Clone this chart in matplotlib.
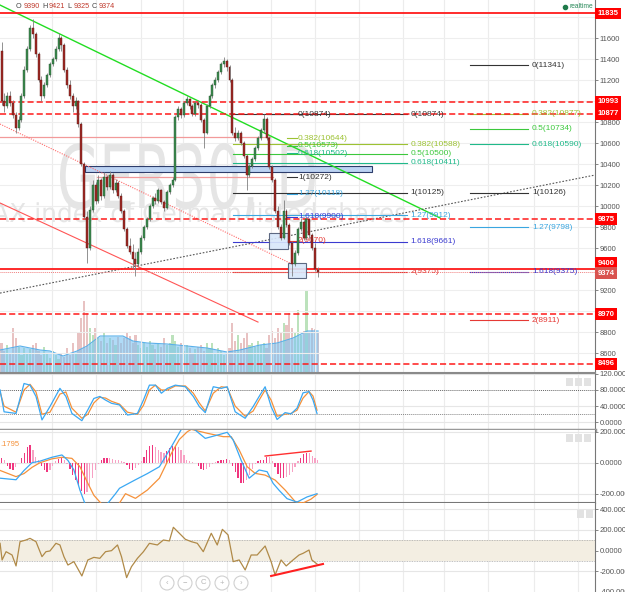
import numpy as np
import matplotlib.pyplot as plt
import matplotlib.transforms as mtransforms
from matplotlib.patches import Rectangle, Circle, PathPatch
from matplotlib.textpath import TextPath
from matplotlib.font_manager import FontProperties

plt.rcParams['font.family'] = ['Liberation Sans', 'DejaVu Sans']

# ---- daily candles (GER30) ----
opens = [11480, 11000, 10950, 11050, 10980, 10870, 10740, 10820, 11050, 11300,
         11500, 11700, 11640, 11450, 11200, 11050, 11150, 11250, 11350, 11400,
         11500, 11600, 11530, 11300, 11150, 11050, 10950, 11000, 10780, 10400,
         9900, 9600, 9960, 10200, 10050, 10250, 10100, 10280, 10180, 10300,
         10150, 10220, 10100, 9950, 9780, 9620, 9560, 9500, 9450, 9560,
         9700, 9800, 9880, 10000, 10080, 10050, 10150, 10040, 9980, 10130,
         10200, 10250, 10850, 10920, 10870, 10980, 11020, 10950, 10880, 10980,
         10960, 10820, 10700, 10950, 11050, 11150, 11200, 11280, 11350, 11380,
         11320, 11200, 10700, 10650, 10700, 10600, 10480, 10300, 10380, 10450,
         10550, 10650, 10720, 10830, 10650, 10370, 10250, 9950, 9800, 9700,
         9950, 9820, 9650, 9450, 9550, 9780, 9850, 9700, 9880, 9720,
         9600, 9390]
highs = [11560, 11080, 11090, 11100, 11010, 10900, 10860, 11080, 11330, 11520,
         11720, 11780, 11660, 11470, 11240, 11180, 11270, 11370, 11420, 11520,
         11650, 11620, 11550, 11320, 11200, 11080, 11040, 11010, 10800, 10420,
         9950, 10000, 10250, 10230, 10300, 10270, 10320, 10300, 10330, 10310,
         10260, 10240, 10120, 9970, 9800, 9700, 9640, 9560, 9600, 9720,
         9820, 9900, 10020, 10100, 10120, 10170, 10160, 10060, 10150, 10220,
         10280, 10870, 10950, 10940, 11000, 11050, 11030, 10970, 11000, 11010,
         10980, 10840, 10970, 11070, 11170, 11230, 11300, 11370, 11420, 11400,
         11340, 11220, 10750, 10720, 10710, 10620, 10500, 10400, 10470, 10570,
         10670, 10740, 10874, 10850, 10670, 10390, 10270, 10000, 9830, 10060,
         9970, 9840, 9670, 9580, 9800, 9890, 9870, 9900, 9890, 9740,
         9650, 9421]
lows = [10960, 10900, 10930, 10950, 10840, 10700, 10720, 10800, 11030, 11280,
        11480, 11600, 11420, 11180, 11000, 11030, 11130, 11230, 11330, 11380,
        11480, 11480, 11280, 11120, 11020, 10900, 10920, 10750, 10380, 9880,
        9460, 9580, 9940, 10020, 10030, 10060, 10080, 10150, 10160, 10120,
        10130, 10080, 9930, 9760, 9600, 9540, 9400, 9330, 9420, 9540,
        9680, 9780, 9860, 9980, 10020, 10030, 10020, 9950, 9970, 10110,
        10180, 10240, 10820, 10840, 10850, 10960, 10920, 10860, 10860, 10930,
        10800, 10550, 10690, 10930, 11030, 11120, 11180, 11260, 11320, 11290,
        11180, 10680, 10620, 10630, 10580, 10460, 10150, 10280, 10360, 10430,
        10530, 10630, 10700, 10630, 10350, 10230, 9930, 9780, 9680, 9690,
        9800, 9630, 9330, 9430, 9530, 9760, 9680, 9680, 9700, 9580,
        9380, 9325]
closes = [11000, 10950, 11050, 10980, 10870, 10740, 10820, 11050, 11300, 11500,
          11700, 11640, 11450, 11200, 11050, 11150, 11250, 11350, 11400, 11500,
          11600, 11530, 11300, 11150, 11050, 10950, 11000, 10780, 10400, 9900,
          9600, 9960, 10200, 10050, 10250, 10100, 10280, 10180, 10300, 10150,
          10220, 10100, 9950, 9780, 9620, 9560, 9500, 9450, 9560, 9700,
          9800, 9880, 10000, 10080, 10050, 10150, 10040, 9980, 10130, 10200,
          10250, 10850, 10920, 10870, 10980, 11020, 10950, 10880, 10980, 10960,
          10820, 10700, 10950, 11050, 11150, 11200, 11280, 11350, 11380, 11320,
          11200, 10700, 10650, 10700, 10600, 10480, 10300, 10380, 10450, 10550,
          10650, 10720, 10830, 10650, 10370, 10250, 9950, 9800, 9700, 9950,
          9820, 9650, 9450, 9550, 9780, 9850, 9700, 9880, 9720, 9600,
          9400, 9374]
volume = [30, 22, 28, 20, 45, 35, 26, 18, 25, 20,
          24, 28, 30, 22, 18, 26, 20, 15, 22, 18,
          14, 20, 16, 25, 18, 30, 20, 40, 55, 72,
          60, 45, 38, 45, 35, 32, 40, 30, 35, 33,
          28, 36, 30, 35, 40, 37, 30, 38, 28, 25,
          30, 26, 32, 28, 24, 30, 26, 35, 28, 30,
          38, 32, 26, 30, 22, 28, 25, 20, 24, 26,
          28, 22, 30, 25, 30, 20, 25, 22, 18, 20,
          25, 50, 32, 38, 30, 35, 40, 28, 30, 26,
          32, 28, 30, 25, 38, 42, 35, 45, 40, 50,
          48, 60, 45, 40, 63, 38, 42, 82, 40, 45,
          44, 40]
vol_ma_x = [-0.5, 6.5, 13.5, 17.0, 21.6, 26.5, 30.0, 34.6, 42.6, 46.1, 51.1,
            58.1, 65.1, 72.1, 79.1, 83.7, 90.7, 96.7, 102.3, 107.2, 111.1]
vol_ma = [23, 27, 23, 22, 17, 22, 27, 37, 37, 32, 30, 29, 27, 25, 21, 23, 28, 30, 35, 42, 42]

# ---- stochastic ----
stoch_x = [-0.5, 0.9, 5.1, 7.9, 10.0, 12.1, 14.2, 17.0, 20.5, 22.6, 24.7, 28.2, 30.3, 32.4,
           34.5, 36.5, 38.6, 41.4, 44.2, 47.7, 49.8, 51.9, 54.0, 56.1, 58.2, 61.0, 64.5,
           67.3, 69.4, 71.5, 74.3, 77.1, 79.2, 82.0, 85.5, 88.3, 90.4, 92.5, 94.6, 96.7,
           99.5, 101.6, 103.7, 105.8, 107.9, 109.3, 110.7]
stoch_k = [80, 26, 22, 96, 92, 64, 6, 39, 84, 64, 22, 4, 31, 59, 64, 55, 47, 43, 18, 22,
           55, 92, 92, 72, 84, 92, 88, 64, 39, 24, 88, 84, 88, 26, 10, 39, 64, 88, 39, 7,
           24, 21, 35, 73, 76, 55, 22]
stoch_d = [75, 40, 25, 80, 94, 75, 20, 25, 70, 75, 35, 10, 20, 48, 62, 60, 52, 45, 25, 20,
           42, 80, 92, 80, 80, 90, 90, 72, 48, 28, 72, 88, 86, 40, 15, 28, 55, 80, 55, 15,
           20, 22, 30, 60, 76, 65, 30]

# ---- MACD ----
macd_hist = [30, 20, -20, -40, -47, -30, -5, 30, 60, 100,
             114, 80, 40, 15, -20, -50, -58, -45, -20, 10,
             25, 28, 15, -10, -40, -80, -110, -150, -180, -200,
             -190, -150, -100, -50, -10, 20, 28, 30, 28, 25,
             20, 15, 10, 5, -15, -40, -47, -35, -15, 10,
             40, 80, 110, 114, 100, 80, 70, 60, 75, 95,
             105, 110, 100, 80, 50, 20, 10, 5, -5, -20,
             -40, -47, -40, -25, -10, 5, 10, 15, 20, 25,
             15, -20, -60, -100, -130, -133, -110, -80, -40, -10,
             10, 15, 20, 40, 35, 10, -30, -70, -100, -100,
             -95, -80, -60, -30, 10, 30, 55, 65, 60, 45,
             30, 15]
macd_x = [-0.5, 2.3, 5.1, 7.9, 10.7, 13.5, 17.7, 21.2, 23.3, 25.4, 27.5, 29.6, 32.4, 35.1,
          36.5, 40.0, 41.4, 47.0, 51.2, 55.4, 59.6, 63.1, 65.2, 68.0, 71.5, 75.7, 79.2,
          81.3, 84.1, 86.9, 90.4, 93.2, 95.3, 97.4, 100.2, 103.7, 107.2, 110.7]
macd_line = [-100, -105, -110, -50, 0, 10, 35, 50, 15, -47, -176, -280, -330, -300,
             -280, -200, -165, -110, -70, -26, 103, 215, 240, 210, 157, 178, 196,
             146, 15, -100, -47, -58, -133, -178, -232, -254, -221, -200]
signal_x = [-0.5, 2.3, 5.1, 7.9, 10.7, 13.5, 17.7, 21.2, 24.7, 27.5, 30.3, 32.4, 35.8,
            40.0, 43.5, 47.0, 51.2, 55.4, 59.6, 62.4, 65.2, 66.6, 72.2, 77.8, 80.6,
            83.4, 86.2, 89.0, 92.5, 96.0, 99.5, 103.0, 105.8, 108.6, 110.7]
macd_signal = [-50, -70, -90, -70, -30, 0, 25, 35, 28, -25, -133, -210, -280, -300,
               -200, -230, -176, -100, 60, 150, 200, 215, 190, 168, 168, 82, -26,
               -69, -80, -112, -176, -250, -260, -235, -205]

# ---- CCI ----
cci_x = [-0.5, 0.2, 1.6, 3.7, 5.1, 6.5, 8.6, 10.0, 12.1, 14.2, 15.6, 17.0, 19.1, 20.5,
         21.9, 23.3, 25.4, 28.2, 30.3, 32.4, 34.5, 36.5, 38.6, 40.7, 42.1, 43.9, 45.6,
         47.7, 49.8, 51.9, 54.7, 56.8, 58.9, 60.3, 62.4, 64.5, 66.6, 68.7, 70.8, 73.6,
         75.7, 77.5, 79.5, 81.3, 83.4, 85.5, 87.6, 89.7, 92.5, 94.6, 96.0, 98.1, 99.9,
         102.3, 104.4, 105.8, 107.9, 108.9, 110.7]
cci = [71, -90, -10, -42, -148, 87, 103, 119, 87, -58, -10, -3, 71, 55, -58, -139,
       -106, -245, -90, -65, -74, -10, 0, 55, -58, -261, -155, -74, -10, 71, 55, 103,
       94, 226, 168, 110, 87, 71, -10, 168, 55, 206, 152, -106, -90, -187, -42, -42,
       45, -106, -235, -90, -148, -90, -42, -26, 6, -90, -129]

# ---- drawings ----
red_levels = [11835, 10993, 10877, 9875, 9400, 8970, 8496]
red_styles = ['-', '--', '--', '--', '-', '--', '--']
tag_text = ['11835', '10993', '10877', '9875', '9400', '9374', '8970', '8496']
tag_price = [11835, 10993, 10877, 9875, 9457, 9362, 8970, 8496]

fib_names = ['0', '0.382', '0.5', '0.618', '1', '1.27', '1.618', '2']
fib_colors = ['#333333', '#9cc232', '#3cc83c', '#20b98a', '#333333', '#3aa6e0', '#3b3bd0', '#e53935']
fib1 = [10874, 10644, 10573, 10502, 10272, 10118, 9900, 9670]
fib2 = [10874, 10588, 10500, 10411, 10125, 9912, 9661, 9375]
fib3 = [11341, 10877, 10734, 10590, 10126, 9798, 9375, 8911]

W, H = 625, 592
fig = plt.figure(figsize=(W / 100, H / 100), dpi=100)
right = 595 / W


def style_y(a):
    a.yaxis.tick_right()
    a.tick_params(axis='y', labelsize=5.5, colors='#555555', length=2, width=0.5, pad=1.5)


def panel(top, bottom):
    a = fig.add_axes([0, 1 - bottom / H, right, (bottom - top) / H])
    for s in ['top', 'left']:
        a.spines[s].set_visible(False)
    a.spines['right'].set_color('#777777')
    a.spines['right'].set_linewidth(0.8)
    style_y(a)
    a.tick_params(axis='x', bottom=False, labelbottom=False)
    a.set_xlim(-0.53, 208.25)
    for g in [17.7, 33.2, 49.1, 63.7, 79.1, 94.6, 110.0, 125.4, 140.9, 155.3, 170.7, 186.8, 202.3]:
        a.axvline(g, color='#ececec', lw=0.8, zorder=0)
    return a


def watermark(a, text, left, base, width, cap, color):
    # stretched text outline placed in output pixels
    tp = TextPath((0, 0), text, size=100, prop=FontProperties(family='DejaVu Sans'))
    bb = tp.get_extents()
    sx = width / bb.width
    sy = cap / 73.0
    tr = mtransforms.Affine2D().translate(-bb.x0, 0).scale(sx, sy).translate(left, H - base)
    a.add_patch(PathPatch(tp, transform=tr, fc=color, ec='none', zorder=0.5))


ax = panel(0, 373)
sto = panel(373, 430)
mac = panel(430, 503)
cc = panel(503, 592)
for a, w, col in [(ax, 1.5, '#8a8a8a'), (sto, 2.5, '#9a9a9a'), (mac, 1.5, '#777777')]:
    a.spines['bottom'].set_color(col)
    a.spines['bottom'].set_linewidth(w)
cc.spines['bottom'].set_visible(False)

# volume (behind)
vax = ax.twinx()
vax.set_ylim(0, 373)
vax.axis('off')
ax.set_zorder(vax.get_zorder() + 1)
ax.patch.set_visible(False)
style_y(ax)

o = np.array(opens); c = np.array(closes)
x = np.arange(len(c))
up = c >= o
vcol = np.where(up, '#b5dfb5', '#e6bcbc')
vax.bar(x, volume, width=0.75, color=vcol, alpha=0.9, zorder=1)
vax.fill_between(vol_ma_x, 0, vol_ma, color='#7cc4f2', alpha=0.6, lw=0, zorder=2)
vax.plot(vol_ma_x, vol_ma, color='#5ab0ea', lw=0.8, zorder=2)

ax.set_ylim(8410, 11962)
ax.set_yticks([8600, 8800, 9200, 9600, 9800, 10000, 10200, 10400, 10600, 10800, 11200, 11400, 11600])
for p in range(8600, 11900, 200):
    ax.axhline(p, color='#eeeeee', lw=0.8, zorder=0)

watermark(ax, 'GER30, D', 60, 208, 255, 64, '#e5e5e5')
watermark(ax, 'DAX index of German listed shares', -24, 222, 430, 19, '#e5e5e5')

# trend lines
ax.plot([-0.53, 153.9], [11914, 9886], color='#22dd22', lw=1.0, zorder=5)
ax.plot([-0.53, 101.9], [10781, 9448], color='#ff6b6b', lw=0.8, ls=(0, (1, 1.2)), zorder=5)
ax.plot([-0.53, 90.0], [10029, 8895], color='#ff5555', lw=0.8, zorder=5)
ax.plot([-0.53, 208.25], [9171, 10295], color='#555555', lw=0.8, ls=(0, (1.5, 1.5)), zorder=5)
ax.plot([-0.53, 94.2], [10657, 10657], color='#f29a9a', lw=0.9, zorder=2)
ax.plot([33.5, 95.3], [10276, 10276], color='#f29a9a', lw=0.9, zorder=2)

# horizontal levels
for lv, st in zip(red_levels, red_styles):
    ax.axhline(lv, color='#ff1a1a', lw=1.3 if st == '-' else 1.1,
               ls='-' if st == '-' else (0, (4, 2)), zorder=6)
ax.axhline(9374, color='#f08080', lw=0.7, ls=(0, (1, 1)), zorder=6)

# rectangles
ax.add_patch(Rectangle((29.3, 10324), 100.7, 57, fc='#bcd3f3', ec='#2d3d6b', lw=0.8, zorder=2))
ax.add_patch(Rectangle((93.9, 9591), 6.6, 152, fc='#d8e7fa', ec='#4d5a75', lw=0.8, alpha=0.9, zorder=6))
ax.add_patch(Rectangle((100.5, 9314), 6.3, 143, fc='#d8e7fa', ec='#4d5a75', lw=0.8, alpha=0.9, zorder=6))

# fib levels
for i, n in enumerate(fib_names):
    col = fib_colors[i]
    ax.plot([81.2, 142.3], [fib2[i]] * 2, color=col, lw=0.8, zorder=5)
    ax.text(143.4, fib2[i], f'{n}({fib2[i]})', color=col, fontsize=6, va='center', zorder=7)
    ax.plot([164.4, 184.7], [fib3[i]] * 2, color=col, lw=0.8, zorder=5)
    ax.text(186.1, fib3[i], f'{n}({fib3[i]})', color=col, fontsize=6, va='center', zorder=7)
    x0 = 93.2 if i == 0 else 100.2
    ax.plot([x0, 103.7], [fib1[i]] * 2, color=col, lw=0.8, zorder=5)
    ax.text(104.0, fib1[i], f'{n}({fib1[i]})', color=col, fontsize=6, va='center', zorder=7)

# candles
ax.vlines(x, lows, highs, color='#808080', lw=0.6, zorder=8)
ax.bar(x[up], (c - o)[up], bottom=o[up], width=0.7, color='#3d8c50', edgecolor='#23502c', lw=0.3, zorder=9)
ax.bar(x[~up], (o - c)[~up], bottom=c[~up], width=0.7, color='#a02a25', edgecolor='#5a1512', lw=0.3, zorder=9)

# price tags on axis
trans = mtransforms.blended_transform_factory(ax.transAxes, ax.transData)
for t, p in zip(tag_text, tag_price):
    fc = '#d9534f' if t == '9374' else '#ff0000'
    ax.text(1.004, p, t, transform=trans, fontsize=5.5, color='white', fontweight='bold',
            va='center', ha='left', clip_on=False, zorder=20,
            bbox=dict(boxstyle='square,pad=0.3', fc=fc, ec='none'))

# stochastic
sto.set_ylim(-19, 122)
sto.set_yticks([0, 40, 80, 120])
sto.set_yticklabels(['0.0000', '40.0000', '80.0000', '120.0000'])
for v in [0, 40, 120]:
    sto.axhline(v, color='#e6e6e6', lw=0.8, zorder=0)
sto.axhline(80, color='#666666', lw=0.7, ls=(0, (1, 1)))
sto.axhline(20, color='#888888', lw=0.7, ls=(0, (1, 1)))
sto.plot(stoch_x, stoch_d, color='#f5913a', lw=0.9)
sto.plot(stoch_x, stoch_k, color='#3aa8f3', lw=0.9)

# macd
mac.set_ylim(-260, 211)
mac.set_yticks([-200, 0, 200])
mac.set_yticklabels(['-200.0000', '0.0000', '200.0000'])
for v in [-200, 0, 200]:
    mac.axhline(v, color='#e6e6e6', lw=0.8, zorder=0)
hist = np.array(macd_hist)
prev = np.concatenate([[0], hist[:-1]])
hcol = np.where(np.abs(hist) >= np.abs(prev), '#f0367f', '#f7a1c4')
mac.bar(x, hist, width=0.45, color=hcol, zorder=2)
mac.plot(signal_x, macd_signal, color='#f5913a', lw=0.9, zorder=3)
mac.plot(macd_x, macd_line, color='#3aa8f3', lw=0.9, zorder=3)
mac.plot([92.5, 108.6], [43, 75], color='#ff3030', lw=1.0, zorder=4)
mac.text(0.0, 0.78, '.1795', transform=mac.transAxes, fontsize=5.5, color='#f5913a', ha='left')

# cci
cc.set_ylim(-400, 461)
cc.set_yticks([-400, -200, 0, 200, 400])
cc.set_yticklabels(['-400.0000', '-200.0000', '0.0000', '200.0000', '400.0000'])
for v in [-200, 0, 200, 400]:
    cc.axhline(v, color='#e6e6e6', lw=0.8, zorder=0)
cc.axhspan(-100, 100, color='#f3eee2', zorder=0.5, lw=0)
cc.axhline(100, color='#aaaaaa', lw=0.6, ls=(0, (1, 1)))
cc.axhline(-100, color='#aaaaaa', lw=0.6, ls=(0, (1, 1)))
cc.plot(cci_x, cci, color='#b08a48', lw=0.9, zorder=3)
cc.plot([94.6, 112.8], [-245, -129], color='#ff2020', lw=1.5, zorder=4)

# overlay decorations (pixel coordinates)
ov = fig.add_axes([0, 0, 1, 1])
ov.set_xlim(0, W)
ov.set_ylim(H, 0)
ov.axis('off')
ov.set_zorder(50)
hdr = [('O', 16, '#444444'), ('9390', 23.5, '#c0392b'), ('H', 42, '#444444'), ('9421', 49, '#c0392b'),
       ('L', 67.5, '#444444'), ('9325', 73.5, '#c0392b'), ('C', 92, '#444444'), ('9374', 99, '#c0392b')]
for t, px, col in hdr:
    ov.text(px, 7, t, fontsize=5.2, color=col, va='center', ha='left')
ov.plot([565], [7], 'o', color='#1f7a4a', ms=3)
ov.text(569, 7, 'realtime', fontsize=4.8, color='#2a8a5a', va='center')
for bx, by, nb in [(566, 378, 3), (566, 434, 3), (577, 510, 2)]:
    for k in range(nb):
        ov.add_patch(Rectangle((bx + k * 9, by), 7, 8, fc='#e2e2e2', ec='none'))
for cx, sym in zip([167, 185, 203, 222, 241], ['‹', '−', 'C', '+', '›']):
    ov.add_patch(Circle((cx, 583), 7, fc='white', ec='#d0d0d0', lw=0.8))
    ov.text(cx, 583, sym, fontsize=5.5, color='#b5b5b5', ha='center', va='center')

fig.savefig('out.png', dpi=100)
